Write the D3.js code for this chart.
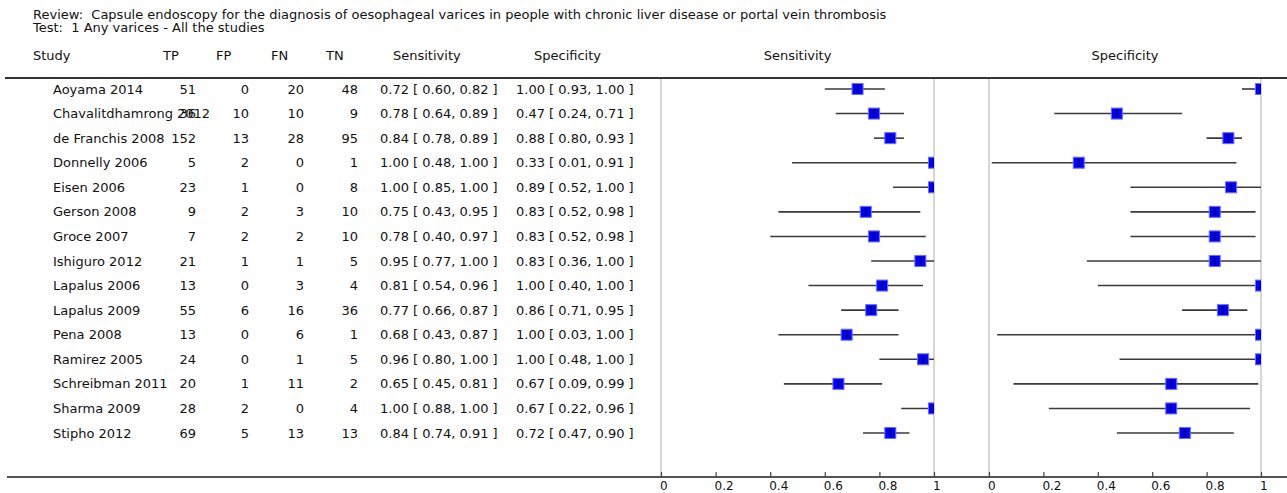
<!DOCTYPE html>
<html>
<head>
<meta charset="utf-8">
<script src="https://cdn.jsdelivr.net/npm/d3@7"></script>
<style>
  html, body { margin: 0; padding: 0; background: #fff; }
  svg text { font-family: "DejaVu Sans", Verdana, sans-serif; font-size: 13px; fill: #111; white-space: pre; }
</style>
</head>
<body>
<svg id="chart" width="1287" height="493"></svg>
<script>
// Forest plot data: one entry per study
const studies = ["Aoyama 2014", "Chavalitdhamrong 2012", "de Franchis 2008", "Donnelly 2006", "Eisen 2006",
  "Gerson 2008", "Groce 2007", "Ishiguro 2012", "Lapalus 2006", "Lapalus 2009", "Pena 2008",
  "Ramirez 2005", "Schreibman 2011", "Sharma 2009", "Stipho 2012"];
const tp = [51, 36, 152, 5, 23, 9, 7, 21, 13, 55, 13, 24, 20, 28, 69];
const fp = [0, 10, 13, 2, 1, 2, 2, 1, 0, 6, 0, 0, 1, 2, 5];
const fn = [20, 10, 28, 0, 0, 3, 2, 1, 3, 16, 6, 1, 11, 0, 13];
const tn = [48, 9, 95, 1, 8, 10, 10, 5, 4, 36, 1, 5, 2, 4, 13];
const sens   = [0.72, 0.78, 0.84, 1.00, 1.00, 0.75, 0.78, 0.95, 0.81, 0.77, 0.68, 0.96, 0.65, 1.00, 0.84];
const sensLo = [0.60, 0.64, 0.78, 0.48, 0.85, 0.43, 0.40, 0.77, 0.54, 0.66, 0.43, 0.80, 0.45, 0.88, 0.74];
const sensHi = [0.82, 0.89, 0.89, 1.00, 1.00, 0.95, 0.97, 1.00, 0.96, 0.87, 0.87, 1.00, 0.81, 1.00, 0.91];
const spec   = [1.00, 0.47, 0.88, 0.33, 0.89, 0.83, 0.83, 0.83, 1.00, 0.86, 1.00, 1.00, 0.67, 0.67, 0.72];
const specLo = [0.93, 0.24, 0.80, 0.01, 0.52, 0.52, 0.52, 0.36, 0.40, 0.71, 0.03, 0.48, 0.09, 0.22, 0.47];
const specHi = [1.00, 0.71, 0.93, 0.91, 1.00, 0.98, 0.98, 1.00, 1.00, 0.95, 1.00, 1.00, 0.99, 0.96, 0.90];
const axisTicks = [0, 0.2, 0.4, 0.6, 0.8, 1];
const titleLines = [
  "Review:  Capsule endoscopy for the diagnosis of oesophageal varices in people with chronic liver disease or portal vein thrombosis",
  "Test:  1 Any varices - All the studies"
];

const svg = d3.select("#chart");
const f2 = d3.format(".2f");
const ci = (v, lo, hi) => `${f2(v)} [ ${f2(lo)}, ${f2(hi)} ]`;

const topRule = 78, bottomRule = 477;
const y = d3.scalePoint().domain(studies).range([89, 433]);
const xSens = d3.scaleLinear().domain([0, 1]).range([661, 934]);
const xSpec = d3.scaleLinear().domain([0, 1]).range([989, 1261]);

// Title
svg.selectAll("text.title").data(titleLines).enter().append("text")
  .attr("class", "title").attr("x", 33).attr("y", (d, i) => 19 + i * 13).text(d => d);

// Column headers
const headers = [
  { t: "Study", x: 33, a: "start" }, { t: "TP", x: 163, a: "start" }, { t: "FP", x: 216, a: "start" },
  { t: "FN", x: 271, a: "start" }, { t: "TN", x: 326, a: "start" },
  { t: "Sensitivity", x: 393, a: "start" }, { t: "Specificity", x: 534, a: "start" },
  { t: "Sensitivity", x: (xSens(0) + xSens(1)) / 2, a: "middle" },
  { t: "Specificity", x: (xSpec(0) + xSpec(1)) / 2, a: "middle" }
];
svg.selectAll("text.hdr").data(headers).enter().append("text")
  .attr("class", "hdr").attr("x", d => d.x).attr("y", 60)
  .attr("text-anchor", d => d.a).text(d => d.t);

// Table body
const cols = [
  { vals: studies, x: 53, a: "start" },
  { vals: tp, x: 196, a: "end" }, { vals: fp, x: 249, a: "end" },
  { vals: fn, x: 304, a: "end" }, { vals: tn, x: 358, a: "end" },
  { vals: studies.map((_, i) => ci(sens[i], sensLo[i], sensHi[i])), x: 380, a: "start" },
  { vals: studies.map((_, i) => ci(spec[i], specLo[i], specHi[i])), x: 516, a: "start" }
];
cols.forEach(c => {
  svg.append("g").selectAll("text").data(c.vals).enter().append("text")
    .attr("x", c.x).attr("y", (d, i) => y(studies[i]) + 4.5)
    .attr("text-anchor", c.a).text(d => d);
});

// Frame lines of each plot panel
[xSens, xSpec].forEach(x => {
  svg.append("g").selectAll("line").data([0, 1]).enter().append("line")
    .attr("x1", d => x(d)).attr("x2", d => x(d))
    .attr("y1", topRule).attr("y2", bottomRule)
    .attr("stroke", "#c8c8c8").attr("stroke-width", 1.5);
});

// Horizontal rules
svg.append("line").attr("x1", 5).attr("x2", 1287).attr("y1", topRule).attr("y2", topRule)
  .attr("stroke", "#333").attr("stroke-width", 2);
svg.append("line").attr("x1", 7).attr("x2", 1287).attr("y1", bottomRule).attr("y2", bottomRule)
  .attr("stroke", "#555").attr("stroke-width", 2);

// Axes
[xSens, xSpec].forEach(x => {
  const g = svg.append("g").attr("transform", `translate(0,${bottomRule})`)
    .call(d3.axisTop(x).tickValues(axisTicks).tickSize(5).tickFormat(d3.format("")));
  g.select(".domain").remove();
  g.selectAll(".tick line").attr("stroke", "#444").attr("stroke-width", 1.2);
  g.selectAll(".tick text").attr("y", 13).attr("dy", null).attr("text-anchor", "start")
    .attr("x", -1.5).style("font-family", "DejaVu Sans, sans-serif").style("font-size", "12px").attr("fill", "#111");
});

// Clip regions for each panel
const defs = svg.append("defs");
[["clipSens", xSens], ["clipSpec", xSpec]].forEach(([id, x]) => {
  defs.append("clipPath").attr("id", id).append("rect")
    .attr("x", x(0)).attr("y", topRule).attr("width", x(1) - x(0)).attr("height", bottomRule - topRule);
});

// Study estimates with confidence intervals
function drawPanel(x, est, lo, hi, clipId) {
  const g = svg.append("g").attr("clip-path", `url(#${clipId})`);
  const rows = g.selectAll("g").data(studies).enter().append("g")
    .attr("transform", d => `translate(0,${y(d)})`);
  rows.append("line")
    .attr("x1", (d, i) => x(lo[i])).attr("x2", (d, i) => x(hi[i]))
    .attr("stroke", "#3a3a3a").attr("stroke-width", 1.6);
  rows.append("rect")
    .attr("x", (d, i) => x(est[i]) - 5.5).attr("y", -5.5)
    .attr("width", 11).attr("height", 11)
    .attr("fill", "#0000ff").attr("stroke", "#6b6bff").attr("stroke-width", 1);
  rows.append("line")
    .attr("x1", (d, i) => x(est[i])).attr("x2", (d, i) => x(est[i]))
    .attr("y1", -4).attr("y2", 4)
    .attr("stroke", "#000").attr("stroke-width", 1);
}
drawPanel(xSens, sens, sensLo, sensHi, "clipSens");
drawPanel(xSpec, spec, specLo, specHi, "clipSpec");
</script>
</body>
</html>
